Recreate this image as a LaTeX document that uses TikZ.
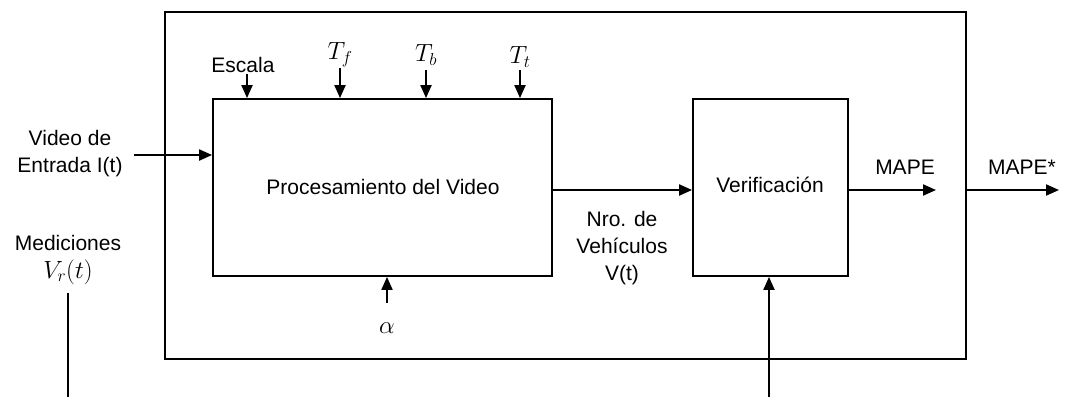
\documentclass[tikz,border=0pt]{standalone}
\usepackage{fontspec}
\setmainfont{Liberation Sans}
\usetikzlibrary{arrows.meta}
\begin{document}
\begin{tikzpicture}[x=1pt,y=-1pt,
  box/.style={draw, line width=1.8pt, inner sep=0pt},
  lbl/.style={inner sep=0pt, align=center, font=\fontsize{21}{27}\selectfont},
  mlbl/.style={inner sep=0pt, font=\fontsize{24}{27}\selectfont},
  arr/.style={line width=2pt, -{Triangle[length=13pt,width=11pt]}},
  ln/.style={line width=1.8pt}]
\useasboundingbox (0,0) rectangle (1066,397);
% boxes
\node[box, minimum width=801pt, minimum height=347pt] (outer) at (565.5,185.5) {};
\node[box, minimum width=339pt, minimum height=177pt] (proc) at (382.5,187.5) {};
\node[lbl] (proct) at (383,187) {Procesamiento del Video};
\node[box, minimum width=155pt, minimum height=177pt] (ver) at (770.5,187.5) {};
\node[lbl] (vert) at (770,185) {Verificación};
% left inputs
\node[lbl] (video) at (70,154) {Video de\\Entrada I(t)};
\coordinate (vin) at (134,155);
\draw[arr] (vin) -- (vin -| proc.west);
\node[lbl] (medi) at (68,243) {Mediciones};
\node[mlbl] (vr) at (68,272) {$V_r(t)$};
\coordinate (m1) at (68,293);
\coordinate (m2) at (68,397);
\draw[ln] (m1) -- (m2);
% top parameters
\node[lbl] (escala) at (243,65) {Escala};
\coordinate (e1) at (247,74);
\draw[arr] (e1) -- (e1 |- proc.north);
\node[mlbl] (tf) at (340,55) {$T_f$};
\coordinate (f1) at (340,68);
\draw[arr] (f1) -- (f1 |- proc.north);
\node[mlbl] (tb) at (426,55) {$T_b$};
\coordinate (b1) at (426,70);
\draw[arr] (b1) -- (b1 |- proc.north);
\node[mlbl] (tt) at (520,57) {$T_t$};
\coordinate (t1) at (520,70);
\draw[arr] (t1) -- (t1 |- proc.north);
% alpha
\node[mlbl] (alpha) at (387,328) {$\alpha$};
\coordinate (a1) at (387,303);
\draw[arr] (a1) -- (a1 |- proc.south);
% processing -> verification
\draw[arr] (proc.east |- 0,190) -- (ver.west |- 0,190);
\node[lbl] (nro) at (622,248) {Nro. de\\Vehículos\\V(t)};
% verification bottom input
\coordinate (vb) at (769,397);
\draw[arr] (vb) -- (vb |- ver.south);
% outputs
\coordinate (mape) at (936,190);
\draw[arr] (ver.east |- 0,190) -- (mape);
\node[lbl] (mapet) at (905,167) {MAPE};
\coordinate (mapes) at (1059,190);
\draw[arr] (outer.east |- 0,190) -- (mapes);
\node[lbl] (mapest) at (1022,167) {MAPE*};
\end{tikzpicture}
\end{document}
